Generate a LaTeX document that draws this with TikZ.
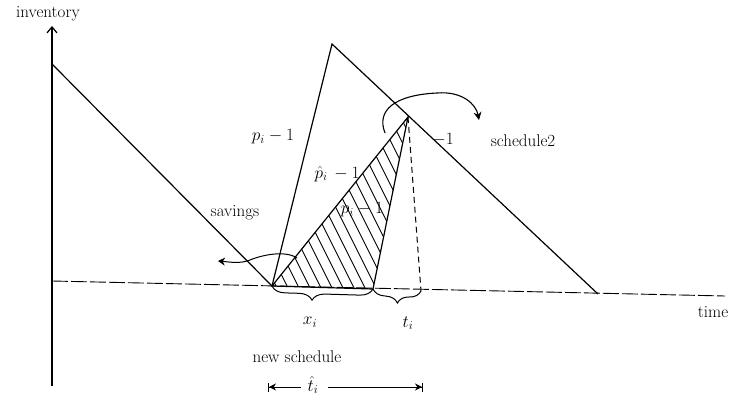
\documentclass[tikz,border=0pt]{standalone}
\usetikzlibrary{decorations.pathreplacing,arrows.meta,calc}
\begin{document}
\begin{tikzpicture}[x=1pt,y=-1pt,
  lbl/.style={inner sep=1pt,font=\fontsize{17}{20}\selectfont},
  ln/.style={line width=1.2pt},
  hatch/.style={line width=0.9pt},
  brc/.style={line width=1pt,decorate,decoration={brace,mirror,amplitude=13pt}}]
\useasboundingbox (0,0) rectangle (736,406);
% key points
\coordinate (Ytop) at (52,26);
\coordinate (Ybot) at (52,386);
\coordinate (Xl) at (52,281);
\coordinate (Xr) at (725,296);
\coordinate (S0) at (52,64);
\coordinate (A) at (272,286);
\coordinate (P) at (332,44);
\coordinate (E) at (598,294);
\coordinate (B) at (408,117);
\coordinate (C) at (373,289);
\coordinate (D) at (421,291);
% axes
\draw[ln,-{Straight Barb[length=6pt,width=10pt]}] (Ybot) -- (Ytop);
\draw[line width=0.9pt,dash pattern=on 16pt off 3pt] (Xl) -- (Xr);
% hatched triangle
\begin{scope}
\clip (A) -- (B) -- (C) -- cycle;
\foreach \x in {150,161,...,420} \draw[hatch] (\x,100) -- ++(100,200);
\end{scope}
\draw[ln] (A) -- (B) -- (C) -- cycle;
% sawtooth lines
\draw[ln] (S0) -- (A);
\draw[ln] (A) -- (P) -- (E);
\draw[line width=1pt,dash pattern=on 6pt off 4pt] (B) -- (D);
% labels
\node[lbl] (inv) at (48,14) {inventory};
\node[lbl] (time) at (713,312) {time};
\node[lbl] (l1) at (273,137) {$p_i-1$};
\node[lbl] (l2) at (337,174) {$\hat p_i\,-1$};
\node[lbl] (l3) at (362,210) {$p_i-1$};
\node[lbl] (l4) at (443,140) {$-1$};
\node[lbl] (sch2) at (523,141) {schedule2};
\node[lbl] (sav) at (235,213) {savings};
\node[lbl] (xi) at (310,322) {$x_i$};
\node[lbl] (ti) at (408,323) {$t_i$};
\node[lbl] (news) at (297,357) {new schedule};
\node[lbl] (th) at (313,385) {$\hat t_i$};
% curved arrows
\coordinate (c1) at (385,133);
\coordinate (c2) at (437,93);
\coordinate (c3) at (479,120);
\draw[line width=1.1pt,-{Stealth[length=8pt,width=8pt]}] (c1) .. controls (376,110) and (395,95) .. (c2) .. controls (462,91) and (476,104) .. (c3);
\coordinate (s1) at (297,258);
\coordinate (s2) at (218,261);
\draw[line width=1pt,-{Stealth[length=7pt,width=8pt]}] (s1) .. controls (285,250) and (262,255) .. (250,260) .. controls (240,264) and (230,262) .. (s2);
% braces
\draw[brc,decoration={aspect=0.4}] (A) -- (C);
\draw[brc,decoration={aspect=0.52}] (C) -- (D);
% t-hat arrow
\coordinate (tl) at (268,387);
\coordinate (tr) at (423,387);
\draw[line width=1pt,-{Stealth[length=7pt,width=7pt]Bar[width=9pt]}] (th.west) ++(-5,2) -- (tl);
\draw[line width=1pt,-{Stealth[length=7pt,width=7pt]Bar[width=9pt]}] (th.east) ++(8,2) -- (tr);
\end{tikzpicture}
\end{document}
